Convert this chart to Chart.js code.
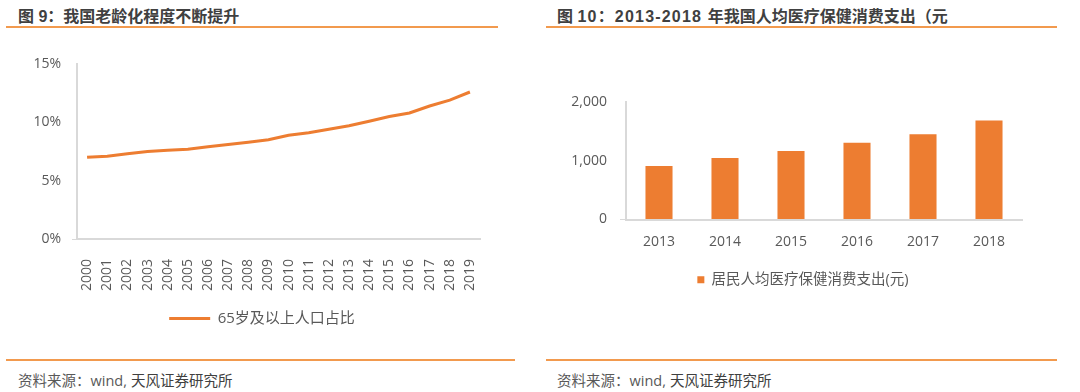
<!DOCTYPE html>
<html>
<head>
<meta charset="utf-8">
<script src="https://cdn.jsdelivr.net/npm/chart.js@4"></script>
<style>
  body { margin: 0; background: #fff; }
  #page { position: relative; width: 1080px; height: 392px; overflow: hidden; font-family: "Open Sans", "Noto Sans CJK SC", sans-serif; }
  .title { position: absolute; top: 3px; font-size: 16px; font-weight: bold; color: #404040; font-family: "Liberation Sans", "Noto Sans CJK SC", sans-serif; white-space: nowrap; }
  .title .num { letter-spacing: 1.2px; }
  .rule { position: absolute; height: 2px; background: #f29a4e; }
  .src { position: absolute; top: 369px; font-size: 14.5px; color: #595959; font-family: "Open Sans", "Noto Sans CJK SC", sans-serif; white-space: nowrap; }
  .src b { font-weight: normal; color: #404040; margin-left: 4px; }
  .box { position: absolute; }
</style>
</head>
<body>
<div id="page">
  <div class="title" style="left:18px">图 9：我国老龄化程度不断提升</div>
  <div class="title" style="left:557px">图 <span class="num">10：2013-2018 </span>年我国人均医疗保健消费支出（元</div>
  <div class="rule" style="left:6px;width:492px;top:26px"></div>
  <div class="rule" style="left:546px;width:511px;top:26px"></div>
  <div class="box" style="left:0;top:40px;width:520px;height:300px"><canvas id="left"></canvas></div>
  <div class="box" style="left:540px;top:40px;width:530px;height:280px"><canvas id="right"></canvas></div>
  <div class="rule" style="left:6px;width:509px;top:359px"></div>
  <div class="rule" style="left:546px;width:511px;top:359px"></div>
  <div class="src" style="left:18px">资料来源：wind,<b>天风证券研究所</b></div>
  <div class="src" style="left:557px">资料来源：wind,<b>天风证券研究所</b></div>
</div>
<script>
/* global Chart */

const years = ['2000', '2001', '2002', '2003', '2004', '2005', '2006', '2007', '2008', '2009',
  '2010', '2011', '2012', '2013', '2014', '2015', '2016', '2017', '2018', '2019']
const elderlyShare = [7.0, 7.1, 7.3, 7.5, 7.6, 7.7, 7.9, 8.1, 8.3, 8.5,
  8.9, 9.1, 9.4, 9.7, 10.1, 10.5, 10.8, 11.4, 11.9, 12.6]
const elderlyLabel = '65岁及以上人口占比'

const spendYears = ['2013', '2014', '2015', '2016', '2017', '2018']
const healthSpend = [912, 1045, 1165, 1307, 1451, 1685]
const spendLabel = '居民人均医疗保健消费支出(元)'

const ORANGE = '#ed7d31'
const AXIS = '#d9d9d9'
const TEXT = '#595959'
const FONT = '"Open Sans", "Noto Sans CJK SC", sans-serif'

Chart.defaults.font.family = FONT
Chart.defaults.color = TEXT
Chart.defaults.animation = false

// only the 0 tick gets a little mark to the left of the axis
const zeroTick = ctx => (ctx.tick && ctx.tick.value === 0 ? AXIS : 'rgba(0,0,0,0)')

// the legend sits a bit right of the canvas centre in the original
const legendShift = {
  id: 'legendShift',
  afterLayout (chart, args, opts) {
    chart.legend.left += opts.dx
    chart.legend.right += opts.dx
  }
}

new Chart(document.getElementById('left'), {
  type: 'line',
  data: {
    labels: years,
    datasets: [{
      label: elderlyLabel,
      data: elderlyShare,
      borderColor: ORANGE,
      backgroundColor: ORANGE,
      borderWidth: 3,
      pointRadius: 0,
      tension: 0
    }]
  },
  plugins: [legendShift],
  options: {
    responsive: true,
    maintainAspectRatio: false,
    layout: { padding: { top: 24, right: 40, bottom: 4, left: 0 } },
    plugins: {
      tooltip: { enabled: false },
      legendShift: { dx: 22 },
      legend: {
        position: 'bottom',
        labels: {
          usePointStyle: true,
          pointStyle: 'line',
          pointStyleWidth: 41,
          font: { size: 15 },
          color: TEXT
        }
      }
    },
    scales: {
      x: {
        offset: true,
        grid: { display: false },
        border: { color: AXIS, width: 2 },
        ticks: { minRotation: 90, maxRotation: 90, padding: 12, font: { size: 14 } },
        afterFit: s => { s.height = 62 }
      },
      y: {
        min: 0,
        max: 15,
        grid: { drawOnChartArea: false, tickLength: 5, color: zeroTick },
        border: { color: AXIS, width: 2 },
        ticks: { stepSize: 5, padding: 11, font: { size: 14 }, callback: v => v + '%' },
        afterFit: s => { s.width = 77 }
      }
    }
  }
})

new Chart(document.getElementById('right'), {
  type: 'bar',
  data: {
    labels: spendYears,
    datasets: [{
      label: spendLabel,
      data: healthSpend,
      backgroundColor: ORANGE,
      barPercentage: 0.82,
      categoryPercentage: 0.5
    }]
  },
  plugins: [legendShift],
  options: {
    responsive: true,
    maintainAspectRatio: false,
    layout: { padding: { top: 62, right: 48, bottom: 23, left: 0 } },
    plugins: {
      tooltip: { enabled: false },
      legendShift: { dx: 22 },
      legend: {
        position: 'bottom',
        labels: { boxWidth: 7, boxHeight: 7, font: { size: 14.5 }, color: TEXT }
      }
    },
    scales: {
      x: {
        grid: { display: false },
        border: { color: AXIS, width: 2 },
        ticks: { padding: 6, font: { size: 14 } },
        afterFit: s => { s.height = 43 }
      },
      y: {
        min: 0,
        max: 2000,
        grid: { drawOnChartArea: false, tickLength: 6, color: zeroTick },
        border: { color: AXIS, width: 2 },
        ticks: { stepSize: 1000, padding: 13, font: { size: 14 }, callback: v => v.toLocaleString('en-US') },
        afterFit: s => { s.width = 86 }
      }
    }
  }
})
</script>
</body>
</html>
